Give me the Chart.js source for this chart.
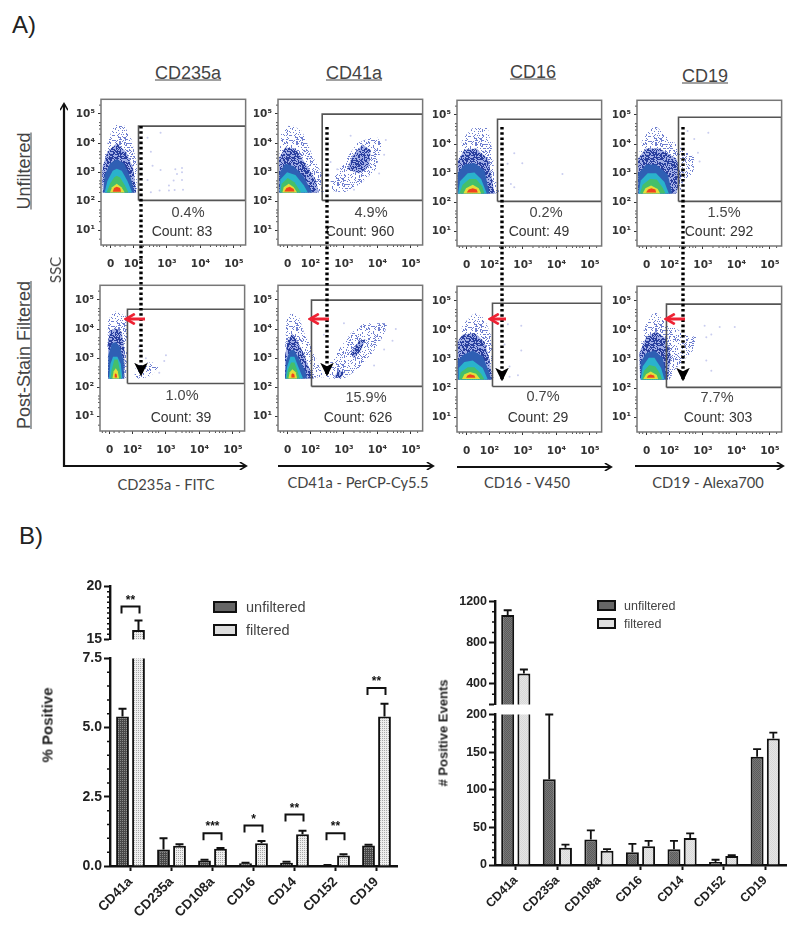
<!DOCTYPE html>
<html>
<head>
<meta charset="utf-8">
<title>Filtered vs unfiltered</title>
<script src="https://cdn.jsdelivr.net/npm/chart.js@4/dist/chart.umd.js"></script>
<style>
    html, body { margin: 0; background: #fff; }
    #page { position: relative; width: 800px; height: 932px; overflow: hidden; font-family: "Liberation Sans", Arial, sans-serif; color: #333; }
    canvas { position: absolute; filter: blur(0.35px); }
    canvas.flow { filter: blur(0.55px); }
    svg { position: absolute; left: 0; top: 0; }
    .txt { position: absolute; white-space: nowrap; transform: translate(-50%, -50%); }
    .swatch { position: absolute; border: 2px solid #111; box-sizing: border-box; }
</style>
</head>
<body>
<div id="page">
    <svg width="800" height="932" id="overlay" style="z-index:5">
        <defs>
            <marker id="headBlack" markerWidth="4" markerHeight="4" refX="3.2" refY="2" orient="auto"><path d="M0.4,0.2 L3.4,2 L0.4,3.8" fill="none" stroke="#111" stroke-width="0.7"/></marker>
            <marker id="headDown" markerWidth="4" markerHeight="4" refX="3.6" refY="2" orient="auto"><path d="M0,0 L4,2 L0,4 L1,2 Z" fill="#000"/></marker>
            <marker id="headRed" markerWidth="4" markerHeight="4" refX="3" refY="2" orient="auto"><path d="M0.4,0.3 L3.4,2 L0.4,3.7" fill="none" stroke="#ee2233" stroke-width="0.9"/></marker>
        </defs>
    </svg>
</div>
<script>
// --- Data: flow panels. x = display decades (0 sits at 1.32), y = log10 SSC ---
const panelNames = ['cd235aUnf', 'cd41aUnf', 'cd16Unf', 'cd19Unf', 'cd235aFil', 'cd41aFil', 'cd16Fil', 'cd19Fil'];
const panelLeft = [101, 278, 457, 637, 100, 278, 457, 637];
const panelTop = [98, 98, 99, 99, 284, 284, 285, 285];
const xTickValues = [1.32, 2, 3, 4, 5];
const xTickLabels = ['0', '10²', '10³', '10⁴', '10⁵'];
const yTickValues = [1, 2, 3, 4, 5];
const yTickLabels = ['10¹', '10²', '10³', '10⁴', '10⁵'];
const xMinorValues = [1.1, 1.2, 1.45, 1.6, 1.75, 2.3, 2.48, 2.6, 2.7, 2.78, 3.3, 3.48, 3.6, 3.7, 3.78, 4.3, 4.48, 4.6, 4.7, 4.78, 5.2];
const yMinorValues = [0.7, 1.3, 1.48, 1.6, 1.7, 2.3, 2.48, 2.6, 2.7, 3.3, 3.48, 3.6, 3.7, 4.3, 4.48, 4.6, 4.7, 5.3];

// left, top, bottom of each gate (right side runs to the box edge)
const gateLeft = [2.15, 2.35, 2.24, 2.27, 1.85, 2.03, 2.09, 1.91];
const gateTop = [4.58, 4.99, 4.85, 4.92, 4.68, 4.99, 4.92, 4.89];
const gateBottom = [2.03, 2.03, 2.03, 2.03, 2.13, 2.03, 2.06, 2.03];

const cd235aUnfBands = [
    ['sparse', [[1.08,2.3],[1.06,3.2],[1.2,3.9],[1.4,4.6],[1.7,4.65],[1.95,4.1],[2.1,3.3],[2.1,2.3]]],
    ['dense', [[1.08,2.3],[1.08,3.2],[1.22,3.7],[1.5,4.0],[1.78,3.7],[2.0,3.1],[2.08,2.3]]],
    ['blue', [[1.1,2.3],[1.14,2.9],[1.3,3.3],[1.5,3.45],[1.72,3.3],[1.92,2.8],[2.03,2.3]]],
    ['cyan', [[1.14,2.3],[1.22,2.7],[1.38,3.05],[1.5,3.12],[1.65,3.05],[1.82,2.7],[1.96,2.3]]],
    ['green', [[1.2,2.3],[1.3,2.6],[1.42,2.82],[1.5,2.88],[1.6,2.82],[1.74,2.55],[1.85,2.3]]],
    ['yellow', [[1.3,2.3],[1.36,2.48],[1.5,2.6],[1.64,2.48],[1.74,2.3]]],
    ['red', [[1.38,2.33],[1.42,2.46],[1.5,2.5],[1.6,2.46],[1.63,2.33]]]
];
const cd41aUnfBands = [
    ['sparse', [[1.06,2.3],[1.06,3.4],[1.12,4.3],[1.4,4.65],[1.75,4.4],[2.05,3.6],[2.35,2.9],[2.4,2.3]]],
    ['dense', [[1.06,2.3],[1.06,3.5],[1.25,3.85],[1.55,3.8],[1.85,3.3],[2.15,2.75],[2.25,2.3]]],
    ['blue', [[1.06,2.3],[1.08,3.0],[1.25,3.3],[1.5,3.2],[1.8,2.85],[2.05,2.3]]],
    ['cyan', [[1.08,2.3],[1.1,2.75],[1.3,3.0],[1.55,2.9],[1.8,2.55],[1.92,2.3]]],
    ['green', [[1.1,2.3],[1.14,2.6],[1.32,2.8],[1.52,2.65],[1.72,2.3]]],
    ['yellow', [[1.16,2.3],[1.2,2.48],[1.35,2.6],[1.5,2.48],[1.6,2.3]]],
    ['red', [[1.22,2.34],[1.28,2.46],[1.38,2.5],[1.5,2.42],[1.52,2.34]]],
    ['sparse', [[2.65,2.35],[2.6,2.7],[3.0,3.35],[3.4,4.0],[3.95,4.25],[4.15,3.95],[3.95,3.1],[3.5,2.6],[3.0,2.3]]],
    ['dense', [[3.1,3.1],[3.25,3.55],[3.55,3.95],[3.8,3.75],[3.75,3.2],[3.45,2.95]]]
];
const cd16UnfBands = [
    ['sparse', [[1.04,2.3],[1.04,3.4],[1.2,4.2],[1.5,4.55],[1.95,4.55],[2.1,3.7],[2.15,2.9],[2.3,2.3]]],
    ['dense', [[1.04,2.3],[1.04,3.4],[1.25,3.8],[1.6,3.85],[1.95,3.5],[2.08,2.8],[2.15,2.3]]],
    ['blue', [[1.04,2.3],[1.05,3.0],[1.25,3.3],[1.55,3.35],[1.85,3.1],[2.0,2.3]]],
    ['cyan', [[1.06,2.3],[1.12,2.72],[1.35,3.0],[1.55,3.02],[1.75,2.8],[1.92,2.3]]],
    ['green', [[1.1,2.3],[1.2,2.6],[1.4,2.8],[1.6,2.8],[1.78,2.55],[1.85,2.3]]],
    ['yellow', [[1.22,2.3],[1.3,2.48],[1.5,2.6],[1.68,2.48],[1.75,2.3]]],
    ['red', [[1.32,2.34],[1.38,2.44],[1.5,2.48],[1.62,2.44],[1.65,2.34]]]
];
const cd19UnfBands = [
    ['sparse', [[1.06,2.3],[1.06,3.5],[1.2,4.2],[1.55,4.65],[1.9,4.3],[2.3,3.9],[2.74,3.55],[2.72,3.0],[2.4,2.7],[2.3,2.3]]],
    ['dense', [[1.06,2.3],[1.06,3.5],[1.3,3.85],[1.7,3.85],[2.2,3.5],[2.35,2.9],[2.2,2.3]]],
    ['blue', [[1.06,2.3],[1.07,3.0],[1.3,3.3],[1.6,3.3],[1.95,2.95],[2.08,2.3]]],
    ['cyan', [[1.08,2.3],[1.14,2.75],[1.35,3.0],[1.6,3.0],[1.85,2.7],[1.98,2.3]]],
    ['green', [[1.12,2.3],[1.2,2.6],[1.42,2.8],[1.62,2.78],[1.8,2.5],[1.88,2.3]]],
    ['yellow', [[1.2,2.3],[1.28,2.48],[1.45,2.58],[1.65,2.46],[1.72,2.3]]],
    ['red', [[1.3,2.34],[1.36,2.44],[1.46,2.48],[1.58,2.44],[1.6,2.34]]]
];
const cd235aFilBands = [
    ['sparse', [[1.3,2.3],[1.25,3.3],[1.27,4.3],[1.45,4.62],[1.8,4.45],[1.85,3.9],[1.85,3.2],[1.8,2.3]]],
    ['dense', [[1.27,2.3],[1.27,3.5],[1.32,3.95],[1.5,4.02],[1.68,3.9],[1.76,3.3],[1.76,2.3]]],
    ['blue', [[1.27,2.3],[1.28,3.1],[1.38,3.5],[1.5,3.55],[1.62,3.4],[1.74,2.9],[1.74,2.3]]],
    ['cyan', [[1.3,2.3],[1.34,2.8],[1.42,3.05],[1.55,3.05],[1.65,2.8],[1.7,2.3]]],
    ['green', [[1.34,2.3],[1.38,2.6],[1.46,2.95],[1.56,2.95],[1.62,2.6],[1.66,2.3]]],
    ['yellow', [[1.4,2.3],[1.44,2.55],[1.5,2.65],[1.56,2.55],[1.6,2.3]]],
    ['red', [[1.46,2.34],[1.47,2.44],[1.5,2.48],[1.53,2.44],[1.54,2.34]]],
    ['sparse', [[2.05,2.32],[2.1,2.7],[2.35,2.85],[2.6,2.85],[2.8,2.7],[2.55,2.4],[2.3,2.3]]],
    ['sparse', [[2.15,2.3],[2.2,2.5],[2.4,2.55],[2.5,2.38]]]
];
const cd41aFilBands = [
    ['sparse', [[1.24,2.3],[1.24,3.3],[1.28,4.3],[1.42,4.55],[1.65,4.45],[1.8,3.9],[2.1,3.2],[2.3,2.6],[2.6,2.35]]],
    ['dense', [[1.24,2.3],[1.24,3.1],[1.32,3.6],[1.45,3.85],[1.6,3.6],[1.8,3.15],[1.95,2.7],[2.1,2.3]]],
    ['blue', [[1.24,2.3],[1.27,2.9],[1.38,3.25],[1.5,3.3],[1.65,3.0],[1.85,2.55],[1.9,2.3]]],
    ['cyan', [[1.26,2.3],[1.3,2.7],[1.4,3.05],[1.52,3.05],[1.62,2.75],[1.78,2.3]]],
    ['green', [[1.28,2.3],[1.33,2.6],[1.42,2.85],[1.52,2.85],[1.6,2.6],[1.68,2.3]]],
    ['yellow', [[1.34,2.3],[1.38,2.52],[1.46,2.62],[1.56,2.52],[1.6,2.3]]],
    ['red', [[1.42,2.34],[1.43,2.44],[1.47,2.48],[1.52,2.44],[1.53,2.34]]],
    ['sparse', [[2.45,2.3],[2.5,2.7],[2.85,3.3],[3.2,3.85],[3.6,4.2],[4.3,4.2],[4.2,3.8],[3.8,3.1],[3.4,2.6],[3.0,2.3]]],
    ['sparse', [[2.6,2.3],[2.75,2.65],[3.0,3.15],[3.3,3.7],[3.7,3.95],[3.9,3.7],[3.55,3.1],[3.2,2.6],[2.95,2.3]]],
    ['dense', [[3.2,3.15],[3.45,3.6],[3.65,3.65],[3.5,3.25],[3.3,3.0]]],
    ['dense', [[2.7,2.35],[2.85,2.6],[3.0,2.5],[2.9,2.3]]]
];
const cd16FilBands = [
    ['sparse', [[1.04,2.3],[1.04,3.3],[1.2,4.2],[1.55,4.58],[1.85,4.4],[2.05,3.8],[2.1,3.0],[2.12,2.3]]],
    ['dense', [[1.04,2.3],[1.04,3.6],[1.2,3.85],[1.55,3.9],[1.85,3.6],[2.0,3.0],[2.08,2.3]]],
    ['blue', [[1.04,2.3],[1.05,2.95],[1.22,3.15],[1.5,3.3],[1.8,3.1],[1.98,2.6],[2.05,2.3]]],
    ['cyan', [[1.06,2.3],[1.08,2.7],[1.25,2.9],[1.5,2.95],[1.8,2.7],[1.95,2.3]]],
    ['green', [[1.1,2.3],[1.14,2.55],[1.35,2.72],[1.55,2.72],[1.75,2.5],[1.85,2.3]]],
    ['yellow', [[1.18,2.32],[1.25,2.48],[1.42,2.56],[1.6,2.5],[1.72,2.32]]],
    ['red', [[1.3,2.36],[1.34,2.44],[1.42,2.48],[1.55,2.44],[1.58,2.36]]]
];
const cd19FilBands = [
    ['sparse', [[1.15,2.3],[1.1,3.2],[1.25,4.1],[1.55,4.65],[1.85,4.3],[2.4,3.9],[2.8,3.75],[2.7,3.3],[2.2,2.7],[2.0,2.3]]],
    ['dense', [[1.12,2.3],[1.1,3.2],[1.3,3.75],[1.6,3.95],[1.9,3.7],[2.05,3.1],[1.95,2.3]]],
    ['blue', [[1.12,2.3],[1.14,2.9],[1.3,3.2],[1.55,3.3],[1.8,3.05],[1.92,2.3]]],
    ['cyan', [[1.14,2.3],[1.2,2.75],[1.38,3.05],[1.55,3.05],[1.75,2.7],[1.85,2.3]]],
    ['green', [[1.18,2.3],[1.24,2.6],[1.4,2.8],[1.58,2.75],[1.72,2.5],[1.78,2.3]]],
    ['yellow', [[1.22,2.32],[1.3,2.48],[1.44,2.58],[1.62,2.46],[1.66,2.32]]],
    ['red', [[1.32,2.36],[1.36,2.44],[1.44,2.47],[1.54,2.44],[1.56,2.36]]]
];
const panelBands = [cd235aUnfBands, cd41aUnfBands, cd16UnfBands, cd19UnfBands, cd235aFilBands, cd41aFilBands, cd16FilBands, cd19FilBands];

// stray events inside the gates
const cd235aUnfDots = [[2.81,4.35],[2.42,4.18],[2.52,3.7],[2.57,3.22],[2.81,3.07],[3.25,3.1],[3.45,3.14],[3.45,3.0],[3.3,2.94],[3.45,2.73],[3.2,2.71],[2.42,2.73],[3.06,2.54],[3.23,2.39],[3.48,2.4],[2.52,2.31],[2.78,2.37],[3.06,2.37]];
const cd41aUnfDots = [[2.5,2.5],[2.55,2.9],[4.2,3.6],[4.25,4.1],[3.2,4.25],[2.8,3.1],[4.05,2.95],[3.3,2.4],[2.6,3.35]];
const cd16UnfDots = [[2.74,3.68],[2.54,3.32],[2.98,3.34],[4.18,2.97],[2.64,2.63],[2.74,2.52]];
const cd19UnfDots = [[3.16,4.39],[2.74,4.17],[2.54,4.45],[2.9,3.4],[2.85,3.7]];
const cd235aFilDots = [[2.95,2.9],[3.0,3.1],[2.2,3.4],[2.4,3.0],[2.8,2.5]];
const cd41aFilDots = [[4.55,4.0],[4.45,3.6],[3.0,4.2],[4.2,3.3],[2.4,3.8],[3.9,2.75]];
const cd16FilDots = [[2.55,4.2],[2.95,4.15],[2.95,3.3],[2.6,2.75],[2.85,2.45],[2.45,3.5],[2.6,2.4]];
const cd19FilDots = [[3.1,3.75],[3.5,4.1],[3.95,4.1],[3.1,2.95],[3.25,3.85],[3.25,2.6],[3.05,4.15]];
const panelDots = [cd235aUnfDots, cd41aUnfDots, cd16UnfDots, cd19UnfDots, cd235aFilDots, cd41aFilDots, cd16FilDots, cd19FilDots];

// --- Data: bar charts ---
const categories = ['CD41a', 'CD235a', 'CD108a', 'CD16', 'CD14', 'CD152', 'CD19'];
const pctUnfiltered = [5.4, 0.6, 0.2, 0.1, 0.12, 0.03, 0.74];
const pctUnfilteredErr = [0.28, 0.4, 0.03, 0.02, 0.03, 0.01, 0.03];
const pctFiltered = [15.9, 0.73, 0.62, 0.82, 1.15, 0.38, 5.4];
const pctFilteredErr = [0.9, 0.06, 0.03, 0.08, 0.12, 0.04, 0.46];
const pctBracketLevel = [18.1, null, 1.18, 1.46, 1.86, 1.18, 6.43];
const pctBracketStars = ['**', null, '***', '*', '**', '**', '**'];
const countUnfiltered = [1068, 114, 34, 17, 21, 4, 144];
const countUnfilteredErr = [47, 86, 12, 11, 11, 3, 10];
const countFiltered = [500, 23, 19, 25, 36, 12, 168];
const countFilteredErr = [40, 4, 2, 7, 6, 1, 8];

// --- Free text: [text, x, y] ---
const panelPercents = [['0.4%',188,212],['4.9%',371,212],['0.2%',546,212],['1.5%',724,212],['1.0%',182,395],['15.9%',366,397],['0.7%',543,396],['7.7%',717,397]];
const panelCounts = [['Count: 83',182,231],['Count: 960',360,231],['Count: 49',539,231],['Count: 292',719,231],['Count: 39',181,417],['Count: 626',358,417],['Count: 29',538,417],['Count: 303',718,417]];
const columnTitles = [['CD235a',188,73],['CD41a',354,73],['CD16',533,72],['CD19',705,76]];
const channelLabels = [['CD235a - FITC',166,484],['CD41a - PerCP-Cy5.5',358,482],['CD16 - V450',527,482],['CD19 - Alexa700',708,482]];

const page = document.getElementById('page');
const overlay = document.getElementById('overlay');

const addText = (text, x, y, css) => {
    const el = document.createElement('div');
    el.className = 'txt';
    el.textContent = text;
    el.style.left = x + 'px';
    el.style.top = y + 'px';
    el.style.cssText += css || '';
    page.appendChild(el);
    return el;
};

const addCanvas = (left, top, width, height) => {
    const c = document.createElement('canvas');
    c.width = width;
    c.height = height;
    c.style.left = left + 'px';
    c.style.top = top + 'px';
    page.appendChild(c);
    return c;
};

// texture tiles, only a fill style
const makeTile = (size, color, test, base) => {
    const c = document.createElement('canvas');
    c.width = c.height = size;
    const g = c.getContext('2d');
    if (base) { g.fillStyle = base; g.fillRect(0, 0, size, size); }
    g.fillStyle = color;
    for (let i = 0; i < size; i++) {
        for (let j = 0; j < size; j++) {
            if (test(i, j)) g.fillRect(i, j, 1, 1);
        }
    }
    return g.createPattern(c, 'repeat');
};
const speckle = (i, j) => {
    let h = Math.imul(i + 1, 374761393) + Math.imul(j + 1, 668265263);
    h = Math.imul(h ^ (h >>> 13), 1274126177);
    return ((h ^ (h >>> 16)) >>> 0) % 100;
};
const sparseTile = makeTile(41, '#6f7fd0', (i, j) => speckle(i, j) < 24);
const denseTile = makeTile(43, '#2a3f9f', (i, j) => speckle(i, j) < 52, '#a3afe6');

const bandColors = {
    sparse: sparseTile,
    dense: denseTile,
    blue: '#2f5fb4',
    cyan: '#2ab2cc',
    green: '#45bf6a',
    yellow: '#e3df3a',
    red: '#f0431f'
};

// small ticks on the axes
const minorTicksPlugin = {
    id: 'minorTicks',
    afterDraw(chart, args, opts) {
        const g = chart.ctx;
        g.save();
        g.strokeStyle = opts.color;
        g.lineWidth = opts.width;
        g.beginPath();
        (opts.x || []).forEach((v) => {
            const px = chart.scales.x.getPixelForValue(v);
            g.moveTo(px, chart.chartArea.bottom);
            g.lineTo(px, chart.chartArea.bottom + opts.length);
        });
        (opts.y || []).forEach((v) => {
            const py = chart.scales.y.getPixelForValue(v);
            g.moveTo(chart.chartArea.left, py);
            g.lineTo(chart.chartArea.left - opts.length, py);
        });
        g.stroke();
        g.restore();
    }
};

const boxPlugin = {
    id: 'plotBox',
    afterDraw(chart) {
        const a = chart.chartArea;
        const g = chart.ctx;
        g.save();
        g.strokeStyle = '#777';
        g.lineWidth = 1.5;
        g.strokeRect(a.left, a.top, a.right - a.left, a.bottom - a.top);
        g.restore();
    }
};

// --- Flow panels ---
const flowBoxSize = 147;
panelNames.forEach((name, i) => {
    const left = panelLeft[i];
    const top = panelTop[i];
    const datasets = [];
    datasets.push({
        label: name + ' gate',
        showLine: true,
        data: [
            { x: gateLeft[i], y: gateBottom[i] },
            { x: gateLeft[i], y: gateTop[i] },
            { x: 5.35, y: gateTop[i] },
            { x: 5.35, y: gateBottom[i] },
            { x: gateLeft[i], y: gateBottom[i] }
        ],
        borderColor: '#555',
        borderWidth: 1.6,
        pointRadius: 0,
        fill: false
    });
    datasets.push({
        label: name + ' events',
        data: panelDots[i].map((p) => ({ x: p[0], y: p[1] })),
        backgroundColor: 'rgba(120,130,215,0.4)',
        borderWidth: 0,
        pointRadius: 1
    });
    // first dataset is painted last, so the hot core goes in front of the sparse halo
    panelBands[i].slice().reverse().forEach((band) => {
        datasets.push({
            label: name + ' ' + band[0],
            showLine: true,
            data: band[1].map((p) => ({ x: p[0], y: p[1] })),
            backgroundColor: bandColors[band[0]],
            borderWidth: 0,
            pointRadius: 0,
            fill: 'shape'
        });
    });

    const canvas = addCanvas(left - 36, top - 8, flowBoxSize + 36 + 6, flowBoxSize + 8 + 32);
    canvas.className = 'flow';
    new Chart(canvas.getContext('2d'), {
        type: 'scatter',
        data: { datasets },
        options: {
            responsive: false,
            animation: false,
            layout: { padding: { top: 8, right: 6, left: 0, bottom: 0 } },
            plugins: {
                legend: { display: false },
                tooltip: { enabled: false },
                minorTicks: { x: xMinorValues, y: yMinorValues, color: '#555', width: 1, length: 2 }
            },
            scales: {
                x: {
                    type: 'linear',
                    min: 1.03,
                    max: 5.35,
                    afterFit: (s) => { s.height = 32; },
                    afterBuildTicks: (s) => { s.ticks = xTickValues.map((v) => ({ value: v })); },
                    grid: { drawOnChartArea: false, tickLength: 3, color: '#333', tickColor: '#333' },
                    border: { display: false },
                    ticks: {
                        autoSkip: false,
                        maxRotation: 0,
                        padding: 10,
                        color: '#333',
                        font: { family: '"DejaVu Sans", sans-serif', size: 10.5, weight: 'bold' },
                        callback: (v) => xTickLabels[xTickValues.indexOf(v)]
                    }
                },
                y: {
                    type: 'linear',
                    min: 0.5,
                    max: 5.5,
                    afterFit: (s) => { s.width = 36; },
                    afterBuildTicks: (s) => { s.ticks = yTickValues.map((v) => ({ value: v })); },
                    grid: { drawOnChartArea: false, tickLength: 3, color: '#333', tickColor: '#333' },
                    border: { display: false },
                    ticks: {
                        autoSkip: false,
                        padding: 3,
                        color: '#333',
                        font: { family: '"DejaVu Sans", sans-serif', size: 10.5, weight: 'bold' },
                        callback: (v) => yTickLabels[yTickValues.indexOf(v)]
                    }
                }
            }
        },
        plugins: [minorTicksPlugin, boxPlugin]
    });
});

panelPercents.forEach((t) => addText(t[0], t[1], t[2], 'font-size:14.5px;color:#444'));
panelCounts.forEach((t) => addText(t[0], t[1], t[2], 'font-size:14px;color:#333'));
columnTitles.forEach((t) => addText(t[0], t[1], t[2], 'font-size:18px;color:#444;text-decoration:underline'));
channelLabels.forEach((t) => addText(t[0], t[1], t[2], 'font-family:Lato;font-size:14.7px;color:#444'));
addText('A)', 24, 25, 'font-size:24px;color:#222');
addText('B)', 31, 536, 'font-size:24px;color:#222');
addText('Unfiltered', 24, 171, 'font-size:18px;color:#444;text-decoration:underline;transform:translate(-50%,-50%) rotate(-90deg)');
addText('Post-Stain Filtered', 24, 355, 'font-size:18px;color:#444;text-decoration:underline;transform:translate(-50%,-50%) rotate(-90deg)');
addText('SSC', 55, 270, 'font-family:Lato;font-size:15px;color:#444;transform:translate(-50%,-50%) rotate(-90deg)');

// --- Arrows on top of the panels ---
const addLine = (x1, y1, x2, y2, css) => {
    const l = document.createElementNS('http://www.w3.org/2000/svg', 'line');
    l.setAttribute('x1', x1);
    l.setAttribute('y1', y1);
    l.setAttribute('x2', x2);
    l.setAttribute('y2', y2);
    Object.keys(css).forEach((k) => l.setAttribute(k, css[k]));
    overlay.appendChild(l);
};
const axisArrow = { stroke: '#111', 'stroke-width': 2.2, 'marker-end': 'url(#headBlack)' };
const dotArrow = { stroke: '#000', 'stroke-width': 3.4, 'stroke-dasharray': '2.6 2.6', 'marker-end': 'url(#headDown)' };
const redArrow = { stroke: '#ee2233', 'stroke-width': 3, 'marker-end': 'url(#headRed)' };
addLine(64, 467, 64, 104, axisArrow);
addLine(63, 466, 246, 466, axisArrow);
addLine(278, 466, 433, 466, axisArrow);
addLine(457, 467, 611, 467, axisArrow);
addLine(635, 466, 783, 466, axisArrow);
addLine(141, 126, 141, 375, dotArrow);
addLine(327, 127, 327, 375, dotArrow);
addLine(502, 127, 502, 380, dotArrow);
addLine(683, 127, 683, 380, dotArrow);
addLine(145, 319, 127, 319, redArrow);
addLine(329, 319, 311, 319, redArrow);
addLine(506, 319, 491, 319, redArrow);
addLine(685, 319, 667, 319, redArrow);

// --- Bar charts ---
const darkFill = makeTile(2, '#8a8a8a', (i, j) => i === 0 && j === 0, '#484848');
const lightFill = makeTile(2, '#a8a8a8', (i, j) => i === 0 && j === 0, '#eeeeee');
const darkFillRight = makeTile(2, '#777', (i, j) => (i + j) % 2 === 0, '#5c5c5c');
const lightFillRight = makeTile(2, '#e6e6e6', (i, j) => (i + j) % 2 === 0, '#d8d8d8');

const errorBarsPlugin = {
    id: 'errorBars',
    afterDatasetsDraw(chart, args, opts) {
        const g = chart.ctx;
        const y = chart.scales.y;
        g.save();
        g.strokeStyle = '#111';
        g.lineWidth = opts.width;
        chart.data.datasets.forEach((ds, di) => {
            const meta = chart.getDatasetMeta(di);
            opts.errors[di].forEach((e, k) => {
                const value = ds.data[k];
                const topValue = value + e;
                // only in the segment of the broken axis that holds the bar top
                if (value > y.max || value < y.min) return;
                const px = meta.data[k].x;
                const from = y.getPixelForValue(value);
                const to = y.getPixelForValue(Math.min(topValue, y.max));
                g.beginPath();
                g.moveTo(px, from);
                g.lineTo(px, to);
                g.moveTo(px - 4, to);
                g.lineTo(px + 4, to);
                g.stroke();
            });
        });
        g.restore();
    }
};

const bracketsPlugin = {
    id: 'sigBrackets',
    afterDatasetsDraw(chart, args, opts) {
        if (!opts.levels) return;
        const g = chart.ctx;
        const y = chart.scales.y;
        const x = chart.scales.x;
        g.save();
        g.strokeStyle = '#111';
        g.fillStyle = '#111';
        g.lineWidth = 2;
        g.textAlign = 'center';
        g.font = 'bold 12px "Liberation Sans"';
        opts.levels.forEach((level, k) => {
            if (level === null || level > y.max || level < y.min) return;
            const px = x.getPixelForValue(k);
            const py = y.getPixelForValue(level);
            g.beginPath();
            g.moveTo(px - 9, py + 7);
            g.lineTo(px - 9, py);
            g.lineTo(px + 9, py);
            g.lineTo(px + 9, py + 7);
            g.stroke();
            g.fillText(opts.stars[k], px, py - 3);
        });
        g.restore();
    }
};

const makeBarChart = (cfg) => {
    const canvas = addCanvas(cfg.left, cfg.top, cfg.width, cfg.height);
    return new Chart(canvas.getContext('2d'), {
        type: 'bar',
        data: {
            labels: categories,
            datasets: [
                { label: 'unfiltered', data: cfg.series[0], backgroundColor: cfg.fills[0], borderColor: '#111', borderWidth: 2, categoryPercentage: 0.78, barPercentage: 0.8 },
                { label: 'filtered', data: cfg.series[1], backgroundColor: cfg.fills[1], borderColor: '#111', borderWidth: 2, categoryPercentage: 0.78, barPercentage: 0.8 }
            ]
        },
        options: {
            responsive: false,
            animation: false,
            layout: { padding: { top: cfg.padTop, bottom: cfg.padBottom, right: cfg.padRight, left: 0 } },
            plugins: {
                legend: { display: false },
                tooltip: { enabled: false },
                errorBars: { errors: cfg.errors, width: cfg.errorWidth },
                sigBrackets: { levels: cfg.levels, stars: cfg.stars },
                minorTicks: { y: cfg.minor, color: '#111', width: 1.5, length: 3 }
            },
            scales: {
                x: {
                    display: cfg.showX,
                    afterFit: (s) => { s.height = cfg.xHeight; },
                    grid: { drawOnChartArea: false, offset: false, tickLength: 5, tickColor: '#111', tickWidth: 2 },
                    border: { color: '#111', width: 2.4 },
                    ticks: {
                        minRotation: 45,
                        maxRotation: 45,
                        padding: 3,
                        color: '#222',
                        font: { family: '"Liberation Sans"', size: cfg.xFont, weight: 'bold' }
                    }
                },
                y: {
                    min: cfg.min,
                    max: cfg.max,
                    afterFit: (s) => { s.width = cfg.yWidth; },
                    afterBuildTicks: (s) => { s.ticks = cfg.ticks.map((v) => ({ value: v })); },
                    grid: { drawOnChartArea: false, tickLength: 6, tickColor: '#111', tickWidth: 2 },
                    border: { color: '#111', width: 2.4 },
                    ticks: {
                        autoSkip: false,
                        padding: 2,
                        color: '#222',
                        font: { family: '"Liberation Sans"', size: cfg.yFont, weight: 'bold' },
                        callback: cfg.tickLabel
                    }
                }
            }
        },
        plugins: [errorBarsPlugin, bracketsPlugin, minorTicksPlugin]
    });
};

// ticks of the two broken axes
const pctUpperTicks = [15, 20];
const pctUpperMinor = [16, 17, 18, 19, 15.5, 16.5, 17.5, 18.5, 19.5];
const pctLowerTicks = [0, 2.5, 5, 7.5];
const pctLowerMinor = [0.5, 1, 1.5, 2, 3, 3.5, 4, 4.5, 5.5, 6, 6.5, 7];
const countUpperTicks = [200, 400, 800, 1200];
const countUpperMinor = [300, 500, 600, 700, 900, 1000, 1100];
const countLowerTicks = [0, 50, 100, 150, 200];
const countLowerMinor = [10, 20, 30, 40, 60, 70, 80, 90, 110, 120, 130, 140, 160, 170, 180, 190];

makeBarChart({
    left: 50, top: 576, width: 350, height: 74,
    padTop: 8, padBottom: 8, padRight: 3,
    series: [pctUnfiltered, pctFiltered], errors: [pctUnfilteredErr, pctFilteredErr],
    fills: [darkFill, lightFill], errorWidth: 2,
    levels: pctBracketLevel, stars: pctBracketStars,
    min: 15, max: 20, ticks: pctUpperTicks, minor: pctUpperMinor,
    tickLabel: (v) => String(v),
    showX: false, xHeight: 0, yWidth: 60, xFont: 13, yFont: 14
});
makeBarChart({
    left: 50, top: 648, width: 350, height: 280,
    padTop: 8, padBottom: 0, padRight: 3,
    series: [pctUnfiltered, pctFiltered], errors: [pctUnfilteredErr, pctFilteredErr],
    fills: [darkFill, lightFill], errorWidth: 2,
    levels: pctBracketLevel, stars: pctBracketStars,
    min: 0, max: 7.5, ticks: pctLowerTicks, minor: pctLowerMinor,
    tickLabel: (v) => v.toFixed(1),
    showX: true, xHeight: 62, yWidth: 60, xFont: 13.5, yFont: 14
});
makeBarChart({
    left: 446, top: 592, width: 344, height: 122,
    padTop: 8, padBottom: 8, padRight: 4,
    series: [countUnfiltered, countFiltered], errors: [countUnfilteredErr, countFilteredErr],
    fills: [darkFillRight, lightFillRight], errorWidth: 1.8,
    min: 200, max: 1200, ticks: countUpperTicks, minor: countUpperMinor,
    tickLabel: (v) => (v === 200 ? '' : String(v)),
    showX: false, xHeight: 0, yWidth: 49, xFont: 12, yFont: 12.5
});
makeBarChart({
    left: 446, top: 705, width: 344, height: 222,
    padTop: 8, padBottom: 0, padRight: 4,
    series: [countUnfiltered, countFiltered], errors: [countUnfilteredErr, countFilteredErr],
    fills: [darkFillRight, lightFillRight], errorWidth: 1.8,
    min: 0, max: 200, ticks: countLowerTicks, minor: countLowerMinor,
    tickLabel: (v) => String(v),
    showX: true, xHeight: 62, yWidth: 49, xFont: 12.5, yFont: 12.5
});

addText('% Positive', 47, 725, 'font-size:15px;font-weight:bold;color:#222;transform:translate(-50%,-50%) rotate(-90deg)');
addText('# Positive Events', 443, 733, 'font-size:13px;font-weight:bold;color:#222;transform:translate(-50%,-50%) rotate(-90deg)');

// legends
const addLegend = (x, y, w, h, fill, label, lx, fontSize) => {
    const s = document.createElement('div');
    s.className = 'swatch';
    s.style.cssText = `left:${x}px;top:${y}px;width:${w}px;height:${h}px;background:${fill}`;
    page.appendChild(s);
    addText(label, lx, y + h / 2, `font-size:${fontSize}px;color:#444;transform:translate(0,-50%)`);
};
addLegend(213, 601, 24, 12, '#666', 'unfiltered', 246, 14.5);
addLegend(213, 624, 24, 12, '#ddd', 'filtered', 246, 14.5);
addLegend(597, 600, 19, 11, '#666', 'unfiltered', 624, 12.5);
addLegend(597, 618, 19, 11, '#e0e0e0', 'filtered', 624, 12.5);
</script>
</body>
</html>
